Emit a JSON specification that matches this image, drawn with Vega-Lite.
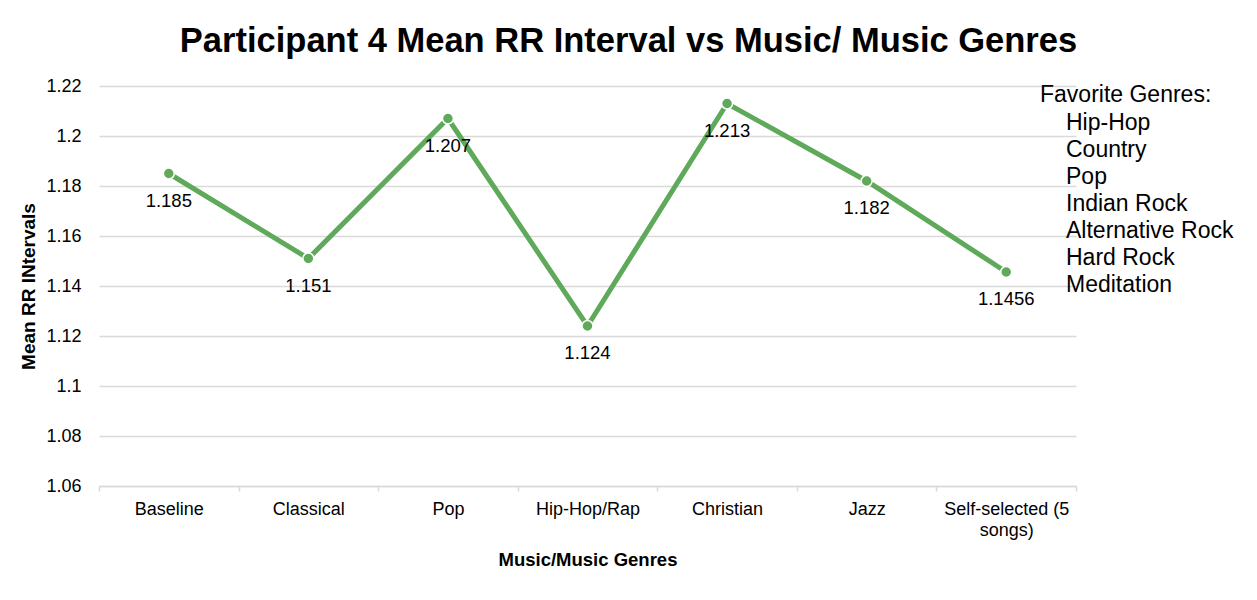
{
  "$schema": "https://vega.github.io/schema/vega-lite/v6.json",
  "width": 977,
  "height": 400,
  "autosize": {"type": "none"},
  "padding": {"left": 99, "top": 86, "right": 181, "bottom": 114},
  "background": "white",
  "config": {
    "font": "Liberation Sans",
    "view": {"stroke": null},
    "axis": {"labelFont": "Liberation Sans", "titleFont": "Liberation Sans", "labelColor": "#000000", "titleColor": "#000000"}
  },
  "title": {
    "text": "Participant 4 Mean RR Interval vs Music/ Music Genres",
    "font": "Liberation Sans",
    "fontSize": 34.5,
    "fontWeight": "bold",
    "color": "#000000",
    "anchor": "middle",
    "dx": 41,
    "offset": 18
  },
  "datasets": {
    "rr": [
      {"genre": "Baseline", "rr": 1.185, "label": "1.185"},
      {"genre": "Classical", "rr": 1.151, "label": "1.151"},
      {"genre": "Pop", "rr": 1.207, "label": "1.207"},
      {"genre": "Hip-Hop/Rap", "rr": 1.124, "label": "1.124"},
      {"genre": "Christian", "rr": 1.213, "label": "1.213"},
      {"genre": "Jazz", "rr": 1.182, "label": "1.182"},
      {"genre": "Self-selected (5 songs)", "rr": 1.1456, "label": "1.1456"}
    ],
    "fav": [
      {"favorite": "Hip-Hop"},
      {"favorite": "Country"},
      {"favorite": "Pop"},
      {"favorite": "Indian Rock"},
      {"favorite": "Alternative Rock"},
      {"favorite": "Hard Rock"},
      {"favorite": "Meditation"}
    ]
  },
  "layer": [
    {
      "data": {"name": "rr"},
      "mark": {"type": "line", "color": "#5fa95a", "strokeWidth": 5},
      "encoding": {
        "x": {
          "field": "genre", "type": "nominal", "sort": null,
          "scale": {"paddingInner": 0, "paddingOuter": 0},
          "axis": {
            "title": "Music/Music Genres",
            "titleFontSize": 18.5, "titleFontWeight": "bold", "titlePadding": 11,
            "labelFontSize": 18, "labelAngle": 0, "labelPadding": 9, "labelLimit": 200,
            "labelLineHeight": 21,
            "labelExpr": "datum.label == 'Self-selected (5 songs)' ? ['Self-selected (5', 'songs)'] : datum.label",
            "tickBand": "extent", "tickColor": "#d9d9d9", "tickSize": 5, "tickWidth": 1.5,
            "domainColor": "#d9d9d9", "domainWidth": 1.5, "grid": false
          }
        },
        "y": {
          "field": "rr", "type": "quantitative",
          "scale": {"domain": [1.06, 1.22], "zero": false, "nice": false},
          "axis": {
            "title": "Mean RR INtervals",
            "titleFontSize": 19, "titleFontWeight": "bold", "titlePadding": 7,
            "labelFontSize": 18, "labelPadding": 18,
            "values": [1.06, 1.08, 1.1, 1.12, 1.14, 1.16, 1.18, 1.2, 1.22],
            "format": ".2~f",
            "ticks": false, "domain": false,
            "grid": true, "gridColor": "#d9d9d9", "gridWidth": 1.5
          }
        }
      }
    },
    {
      "data": {"name": "rr"},
      "mark": {"type": "point", "filled": true, "color": "#5fa95a", "size": 120, "opacity": 1, "stroke": "white", "strokeWidth": 1.5},
      "encoding": {
        "x": {"field": "genre", "type": "nominal", "sort": null},
        "y": {"field": "rr", "type": "quantitative"}
      }
    },
    {
      "data": {"name": "rr"},
      "mark": {"type": "text", "fontSize": 18.5, "dy": 27, "baseline": "middle", "align": "center", "color": "#000000", "font": "Liberation Sans"},
      "encoding": {
        "x": {"field": "genre", "type": "nominal", "sort": null},
        "y": {"field": "rr", "type": "quantitative"},
        "text": {"field": "label"}
      }
    },
    {
      "data": {"name": "fav"},
      "mark": {"type": "point", "opacity": 0},
      "encoding": {
        "color": {
          "field": "favorite", "type": "nominal", "sort": null,
          "scale": {"range": ["#000000"]},
          "legend": {
            "title": "Favorite Genres:",
            "orient": "none", "legendX": 941, "legendY": -2,
            "titleFontSize": 23, "titleFontWeight": "normal", "titleColor": "#000000", "titleFont": "Liberation Sans",
            "titlePadding": 4, "titleLimit": 400,
            "labelFontSize": 23, "labelColor": "#000000", "labelFont": "Liberation Sans", "labelLimit": 400,
            "labelOffset": 3, "rowPadding": 3,
            "symbolSize": 0, "symbolOpacity": 0, "symbolStrokeWidth": 0, "symbolType": "circle",
            "padding": 0
          }
        }
      }
    }
  ]
}
